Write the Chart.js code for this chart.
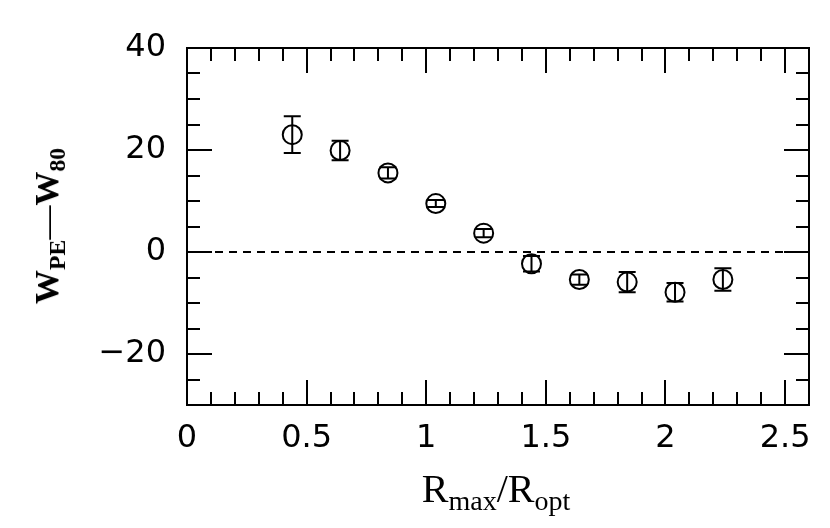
<!DOCTYPE html>
<html>
<head>
<meta charset="utf-8">
<script src="https://cdn.jsdelivr.net/npm/chart.js@4/dist/chart.umd.min.js"></script>
<style>
  html, body { margin: 0; padding: 0; background: #fff; }
  #wrap { position: relative; width: 830px; height: 528px; }
  #c { position: absolute; left: 0; top: 0; }
  .title { position: absolute; white-space: nowrap; color: #000; font-family: "Liberation Serif", "DejaVu Serif", serif; }
  .title sub { font-size: 70%; vertical-align: baseline; position: relative; top: 0.28em; }
  .title .dash { font-weight: normal; }
  #ytitle { left: 47px; top: 226px; font-size: 34px; font-weight: bold; line-height: 1; transform: translate(-50%, -50%) rotate(-90deg); }
  #xtitle { left: 496px; top: 489px; font-size: 40px; line-height: 1; transform: translate(-50%, -50%); }
</style>
</head>
<body>
<div id="wrap">
  <canvas id="c" width="830" height="528"></canvas>
  <div id="ytitle" class="title">W<sub>PE</sub><span class="dash">—</span>W<sub>80</sub></div>
  <div id="xtitle" class="title">R<sub>max</sub>/R<sub>opt</sub></div>
</div>
<script>
// ---- data ----
const ratioX   = [0.44, 0.64, 0.84, 1.04, 1.24, 1.44, 1.64, 1.84, 2.04, 2.24];
const widthDiff = [23.0, 19.9, 15.5, 9.5, 3.7, -2.3, -5.4, -5.9, -7.9, -5.4];
const widthErr  = [3.6, 1.9, 1.1, 0.7, 0.8, 1.5, 1.0, 2.0, 1.8, 2.2];
const zeroLineX = [0, 2.6];
const zeroLineY = [0, 0];
const xTicks = [0, 0.5, 1, 1.5, 2, 2.5];
const xTickLabels = ["0", "0.5", "1", "1.5", "2", "2.5"];
const yTicks = [-20, 0, 20, 40];
const yTickLabels = ["\u221220", "0", "20", "40"];
const xMinorStep = 0.1;
const yMinorStep = 5;

const pts = ratioX.map((x, i) => ({ x: x, y: widthDiff[i], err: widthErr[i] }));
const zeroLine = zeroLineX.map((x, i) => ({ x: x, y: zeroLineY[i] }));

const framePlugin = {
  id: 'frame',
  afterDraw(chart) {
    const { ctx, chartArea: a, scales: { x, y } } = chart;
    ctx.save();
    ctx.strokeStyle = '#000';
    ctx.lineWidth = 2;
    ctx.lineCap = 'butt';
    ctx.strokeRect(a.left, a.top, a.right - a.left, a.bottom - a.top);
    const majLen = 25, minLen = 13;
    const eps = 1e-6;
    ctx.beginPath();
    for (let k = 0; ; k++) {
      const v = +(x.min + k * xMinorStep).toFixed(6);
      if (v > x.max + eps) break;
      const px = Math.round(x.getPixelForValue(v));
      const isMaj = xTicks.some(t => Math.abs(t - v) < eps);
      const L = isMaj ? majLen : minLen;
      ctx.moveTo(px, a.bottom); ctx.lineTo(px, a.bottom - L);
      ctx.moveTo(px, a.top); ctx.lineTo(px, a.top + L);
    }
    for (let k = 0; ; k++) {
      const v = y.min + k * yMinorStep;
      if (v > y.max + eps) break;
      const py = Math.round(y.getPixelForValue(v));
      const isMaj = yTicks.some(t => Math.abs(t - v) < eps);
      const L = isMaj ? majLen : minLen;
      ctx.moveTo(a.left, py); ctx.lineTo(a.left + L, py);
      ctx.moveTo(a.right, py); ctx.lineTo(a.right - L, py);
    }
    ctx.stroke();
    ctx.restore();
  }
};

const errorBarPlugin = {
  id: 'errorBars',
  afterDatasetsDraw(chart) {
    const { ctx, scales: { x, y } } = chart;
    const cap = 8.5;
    ctx.save();
    ctx.strokeStyle = '#000';
    ctx.lineWidth = 2;
    ctx.beginPath();
    pts.forEach((p) => {
      const px = x.getPixelForValue(p.x);
      const yTop = y.getPixelForValue(p.y + p.err);
      const yBot = y.getPixelForValue(p.y - p.err);
      ctx.moveTo(px, yTop); ctx.lineTo(px, yBot);
      ctx.moveTo(px - cap, yTop); ctx.lineTo(px + cap, yTop);
      ctx.moveTo(px - cap, yBot); ctx.lineTo(px + cap, yBot);
    });
    ctx.stroke();
    ctx.restore();
  }
};

const tickFont = { family: '"DejaVu Sans", sans-serif', size: 32, weight: 'normal' };

new Chart(document.getElementById('c'), {
  type: 'scatter',
  data: {
    datasets: [
      {
        data: pts,
        showLine: false,
        pointStyle: 'circle',
        pointRadius: 9.5,
        pointHoverRadius: 9.5,
        borderColor: '#000',
        backgroundColor: 'rgba(0,0,0,0)',
        borderWidth: 2
      },
      {
        type: 'line',
        data: zeroLine,
        borderColor: '#000',
        borderWidth: 2,
        borderDash: [8, 6],
        pointRadius: 0,
        fill: false
      }
    ]
  },
  options: {
    responsive: false,
    devicePixelRatio: 1,
    animation: false,
    events: [],
    layout: { padding: { top: 48, right: 21, left: 0, bottom: 0 } },
    plugins: { legend: { display: false }, tooltip: { enabled: false } },
    scales: {
      x: {
        type: 'linear',
        min: 0, max: 2.6,
        afterBuildTicks: (s) => { s.ticks = xTicks.map(v => ({ value: v })); },
        afterFit: (s) => { s.height = 123; },
        grid: { display: false, drawTicks: false },
        border: { display: false },
        ticks: {
          color: '#000', font: tickFont, padding: 14,
          autoSkip: false, maxRotation: 0, minRotation: 0,
          callback: (v) => { const i = xTicks.findIndex(t => Math.abs(t - v) < 1e-6); return i >= 0 ? xTickLabels[i] : ''; }
        }
      },
      y: {
        type: 'linear',
        min: -30, max: 40,
        afterBuildTicks: (s) => { s.ticks = yTicks.map(v => ({ value: v })); },
        afterFit: (s) => { s.width = 187; },
        grid: { display: false, drawTicks: false },
        border: { display: false },
        ticks: {
          color: '#000', font: tickFont, padding: 21,
          autoSkip: false,
          callback: (v) => { const i = yTicks.findIndex(t => Math.abs(t - v) < 1e-6); return i >= 0 ? yTickLabels[i] : ''; }
        }
      }
    }
  },
  plugins: [framePlugin, errorBarPlugin]
});
</script>
</body>
</html>
